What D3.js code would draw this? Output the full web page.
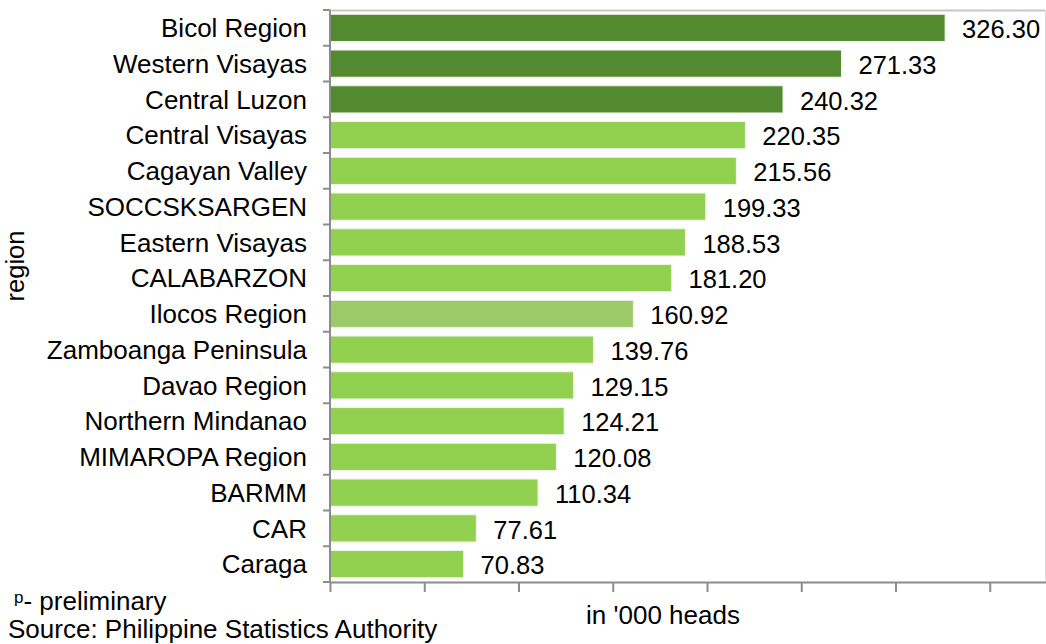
<!DOCTYPE html>
<html><head><meta charset="utf-8">
<script src="https://cdn.jsdelivr.net/npm/d3@7"></script>
<style>body{margin:0;background:#fff}svg{display:block;font-family:"Liberation Sans",Arial,sans-serif}</style>
</head><body><svg id="c" width="1046" height="644"></svg>
<script>
const regions = ["Bicol Region","Western Visayas","Central Luzon","Central Visayas","Cagayan Valley","SOCCSKSARGEN","Eastern Visayas","CALABARZON","Ilocos Region","Zamboanga Peninsula","Davao Region","Northern Mindanao","MIMAROPA Region","BARMM","CAR","Caraga"];
const values = [326.30,271.33,240.32,220.35,215.56,199.33,188.53,181.20,160.92,139.76,129.15,124.21,120.08,110.34,77.61,70.83];
const groups = ["top","top","top","mid","mid","mid","mid","mid","ilocos","mid","mid","mid","mid","mid","mid","mid"];
const xTicks = [0,50,100,150,200,250,300,350];
const colors = {top:"#548A2F", mid:"#92D050", ilocos:"#9DCA68"};

const svg = d3.select("#c");
const L=330, R=1045, T=10, B=582;
const x = d3.scaleLinear().domain([0,379.3]).range([L,R]);
const y = d3.scaleBand().domain(regions).range([T,B]).paddingInner(0.24).paddingOuter(0.12);
const yb = d3.scaleBand().domain(regions).range([T,B]);

// frame
svg.append("line").attr("x1",L).attr("x2",R).attr("y1",T+0.5).attr("y2",T+0.5).attr("stroke","#c8c8c8").attr("stroke-width",2);
svg.append("line").attr("x1",R+0.5).attr("x2",R+0.5).attr("y1",T).attr("y2",B).attr("stroke","#dcdcdc").attr("stroke-width",1);

// bars
svg.selectAll("rect.bar").data(regions).join("rect").attr("class","bar")
  .attr("x",x(0)).attr("y",d=>y(d)).attr("width",(d,i)=>x(values[i])-x(0)).attr("height",y.bandwidth())
  .attr("fill",(d,i)=>colors[groups[i]]).attr("stroke","#eef2ea").attr("stroke-width",1);

// value labels
svg.selectAll("text.val").data(regions).join("text").attr("class","val")
  .attr("x",(d,i)=>x(values[i])+17).attr("y",d=>y(d)+y.bandwidth()/2+1).attr("dy","0.36em")
  .attr("font-size",25.5).attr("fill","#000").text((d,i)=>values[i].toFixed(2));

// category labels
svg.selectAll("text.cat").data(regions).join("text").attr("class","cat")
  .attr("x",L-23).attr("y",d=>y(d)+y.bandwidth()/2).attr("dy","0.36em").attr("text-anchor","end")
  .attr("font-size",26).attr("fill","#000").text(d=>d);

// y axis line + ticks at band boundaries
const gy = svg.append("g");
gy.append("line").attr("x1",L).attr("x2",L).attr("y1",T).attr("y2",B+1).attr("stroke","#8c8c8c").attr("stroke-width",2);
const bounds = regions.map(d=>yb(d)).concat([B]);
gy.selectAll("line.t").data(bounds).join("line").attr("class","t")
  .attr("x1",L-7).attr("x2",L).attr("y1",d=>d).attr("y2",d=>d).attr("stroke","#8c8c8c").attr("stroke-width",2);

// x axis
const gx = svg.append("g").attr("transform",`translate(0,${B})`);
gx.call(d3.axisBottom(x).tickValues(xTicks).tickFormat("").tickSize(10).tickSizeOuter(0));
gx.select(".domain").attr("stroke","#8c8c8c").attr("stroke-width",2).attr("d",`M${L},0.5H${R+1}`);
gx.selectAll(".tick line").attr("stroke","#8c8c8c").attr("stroke-width",2);

// titles
svg.append("text").attr("transform","translate(24,266) rotate(-90)").attr("text-anchor","middle").attr("font-size",25.5).text("region");
svg.append("text").attr("x",663).attr("y",624).attr("text-anchor","middle").attr("font-size",26).text("in '000 heads");
const p = svg.append("text").attr("x",14).attr("y",610).attr("font-size",26);
p.append("tspan").attr("font-size",17).attr("dy",-7).text("p");
p.append("tspan").attr("dy",7).text("- preliminary");
svg.append("text").attr("x",8).attr("y",638).attr("font-size",26).text("Source: Philippine Statistics Authority");
</script></body></html>
